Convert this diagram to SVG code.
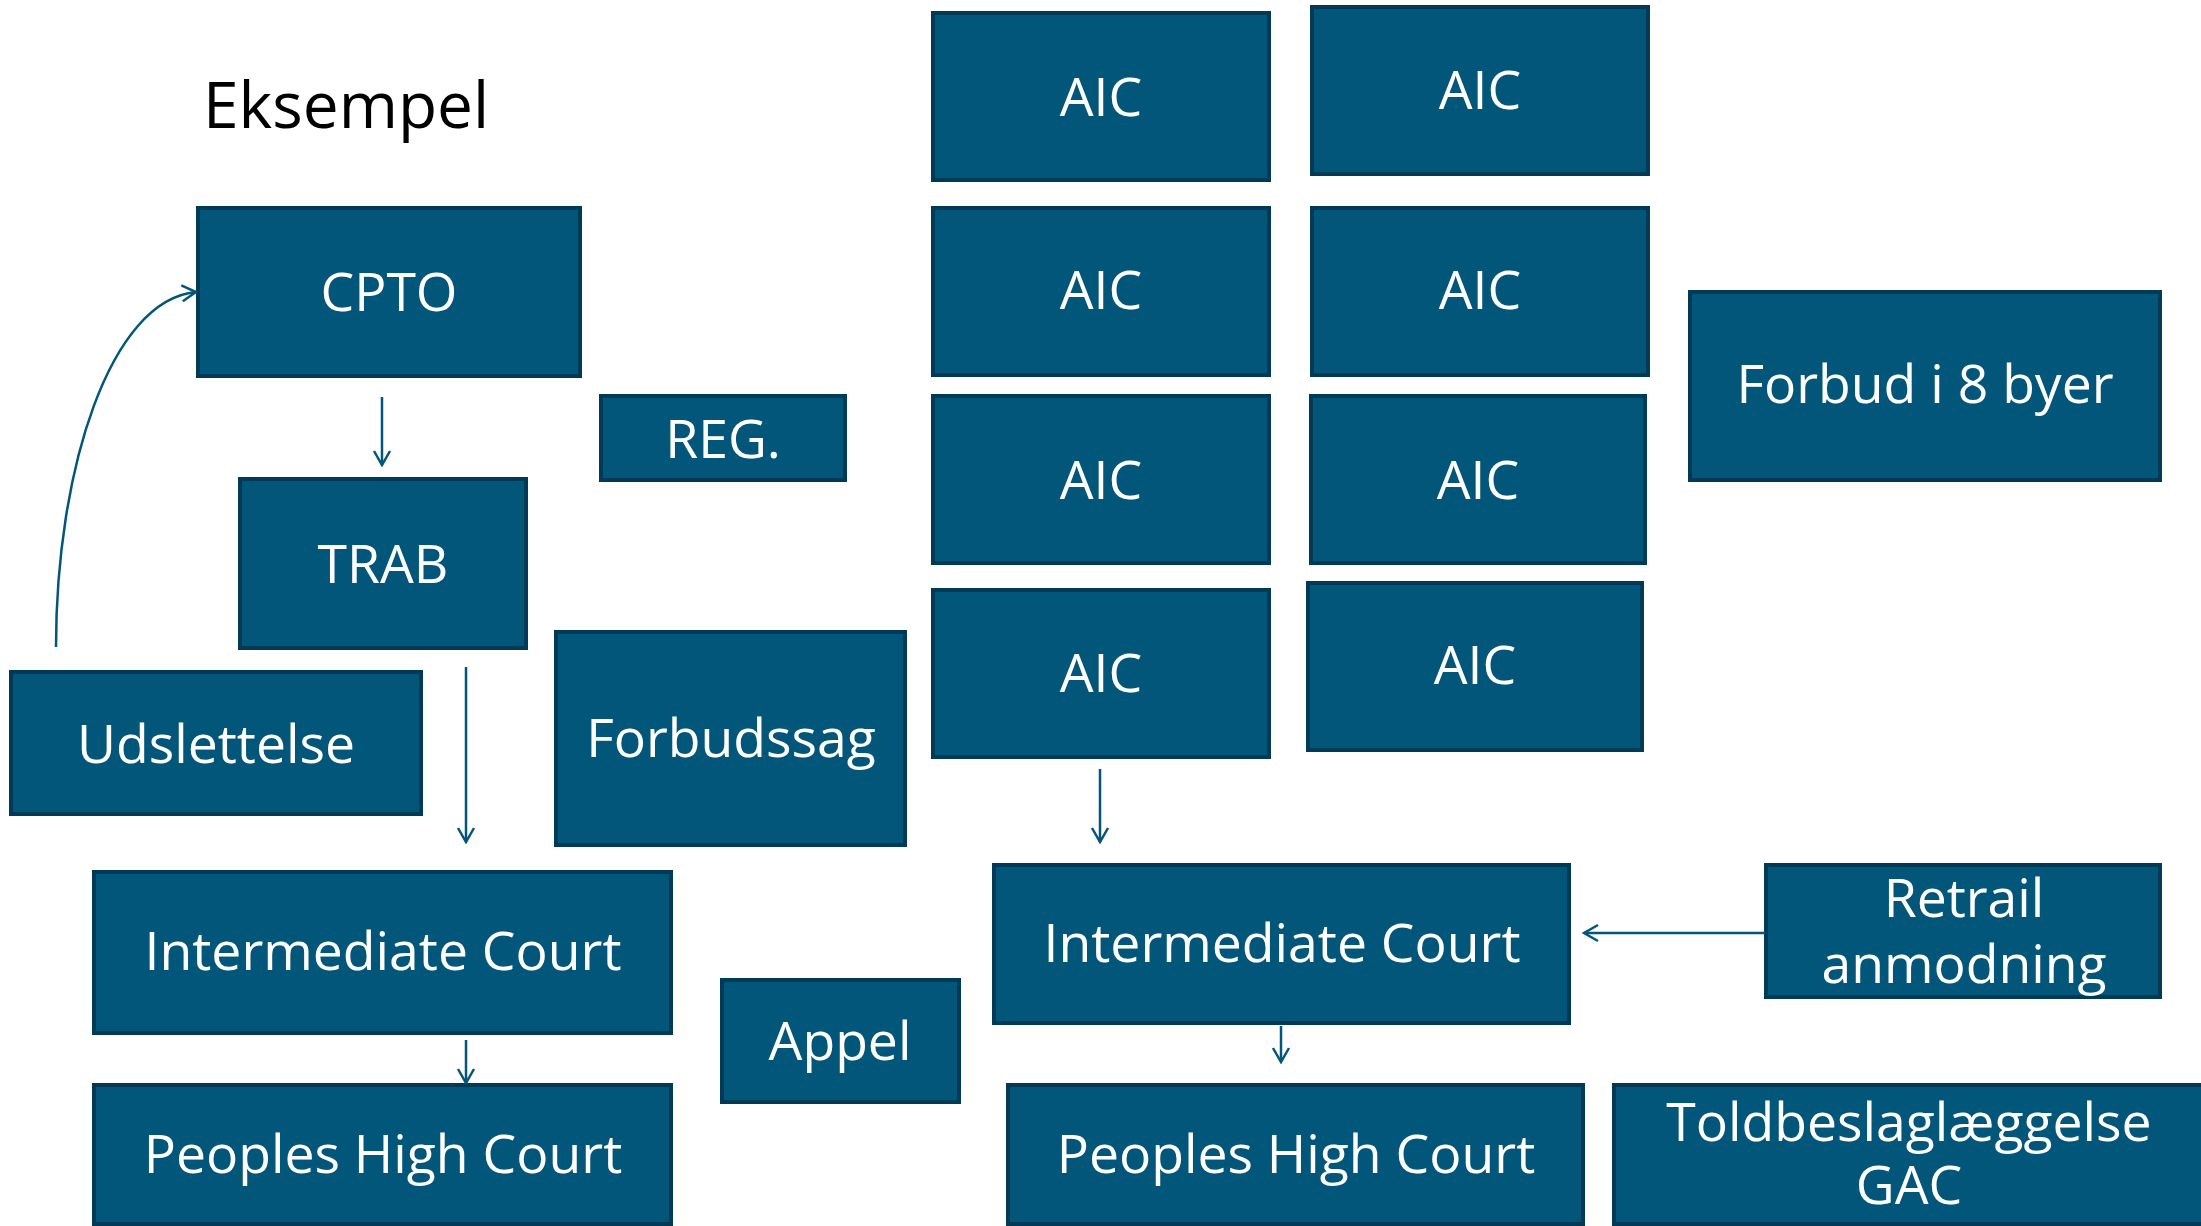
<svg xmlns="http://www.w3.org/2000/svg" width="2201" height="1226" viewBox="0 0 2201 1226">
<style>
.b{fill:#02567a;stroke:#003a56;stroke-width:4}
.t{font-family:"Open Sans","Noto Sans",sans-serif;font-size:53.5px;fill:#ffffff;text-anchor:middle}
.c{fill:none;stroke:#02567a;stroke-width:2.5;marker-end:url(#a)}
</style>
<defs>
<marker id="a" viewBox="0 0 20 20" refX="18" refY="10" markerWidth="20" markerHeight="20" markerUnits="userSpaceOnUse" orient="auto">
<path d="M4,2 L18,10 L4,18" fill="none" stroke="#02567a" stroke-width="2.5"/>
</marker>
</defs>
<rect width="2201" height="1226" fill="#ffffff"/>
<text x="203" y="128" style="font-family:'Open Sans','Noto Sans',sans-serif;font-size:64px;fill:#000000">Eksempel</text>
<g id="cpto"><rect class="b" x="198" y="208" width="382" height="168"/><text class="t" x="389" y="311">CPTO</text></g>
<g id="reg"><rect class="b" x="601" y="396" width="244" height="84"/><text class="t" x="723" y="458">REG.</text></g>
<g id="trab"><rect class="b" x="240" y="479" width="286" height="169"/><text class="t" x="383" y="583">TRAB</text></g>
<g id="udslettelse"><rect class="b" x="11" y="672" width="410" height="142"/><text class="t" x="216" y="763">Udslettelse</text></g>
<g id="forbudssag"><rect class="b" x="556" y="632" width="349" height="213"/><text class="t" x="731" y="757">Forbudssag</text></g>
<g id="intermediate1"><rect class="b" x="94" y="872" width="577" height="161"/><text class="t" x="383" y="970">Intermediate Court</text></g>
<g id="peoples1"><rect class="b" x="94" y="1085" width="577" height="139"/><text class="t" x="383" y="1173">Peoples High Court</text></g>
<g id="appel"><rect class="b" x="722" y="980" width="237" height="122"/><text class="t" x="840" y="1060">Appel</text></g>
<g id="aic1"><rect class="b" x="933" y="13" width="336" height="167"/><text class="t" x="1101" y="116">AIC</text></g>
<g id="aic2"><rect class="b" x="933" y="208" width="336" height="167"/><text class="t" x="1101" y="309">AIC</text></g>
<g id="aic3"><rect class="b" x="933" y="396" width="336" height="167"/><text class="t" x="1101" y="499">AIC</text></g>
<g id="aic4"><rect class="b" x="933" y="590" width="336" height="167"/><text class="t" x="1101" y="692">AIC</text></g>
<g id="aic5"><rect class="b" x="1312" y="7" width="336" height="167"/><text class="t" x="1480" y="109">AIC</text></g>
<g id="aic6"><rect class="b" x="1312" y="208" width="336" height="167"/><text class="t" x="1480" y="309">AIC</text></g>
<g id="aic7"><rect class="b" x="1311" y="396" width="334" height="167"/><text class="t" x="1478" y="499">AIC</text></g>
<g id="aic8"><rect class="b" x="1308" y="583" width="334" height="167"/><text class="t" x="1475" y="684">AIC</text></g>
<g id="forbud8"><rect class="b" x="1690" y="292" width="470" height="188"/><text class="t" x="1925" y="403">Forbud i 8 byer</text></g>
<g id="intermediate2"><rect class="b" x="994" y="865" width="575" height="158"/><text class="t" x="1282" y="962">Intermediate Court</text></g>
<g id="retrail"><rect class="b" x="1766" y="865" width="394" height="132"/><text class="t" x="1964" y="917">Retrail</text><text class="t" x="1964" y="983">anmodning</text></g>
<g id="peoples2"><rect class="b" x="1008" y="1085" width="575" height="139"/><text class="t" x="1296" y="1173">Peoples High Court</text></g>
<g id="told"><rect class="b" x="1614" y="1085" width="600" height="139"/><text class="t" x="1909" y="1141">Toldbeslaglæggelse</text><text class="t" x="1909" y="1204">GAC</text></g>
<g id="connectors">
<path class="c" d="M382,397 L382,465"/>
<path class="c" d="M466,667 L466,842"/>
<path class="c" d="M466,1040 L466,1083"/>
<path class="c" d="M56,647 C56,470 110,300 196,292"/>
<path class="c" d="M1100,769 L1100,842"/>
<path class="c" d="M1765,933 L1584,933"/>
<path class="c" d="M1281,1026 L1281,1062"/>
</g>
</svg>
